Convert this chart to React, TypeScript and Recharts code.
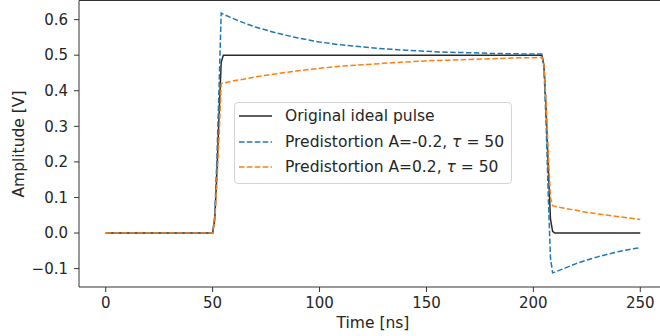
import React from 'react';
import { LineChart, Line, XAxis, YAxis, Legend, ReferenceLine } from 'recharts';

// sample times (ns)
const times = [0, 50, 51, 52, 53, 54, 55, 60, 65, 70, 80, 90, 100, 110, 120, 130, 140, 150, 160, 170, 180, 190, 200, 204, 205, 206, 207, 208, 209, 210, 215, 220, 225, 230, 235, 240, 245, 250];

// amplitudes (V)
const idealPulse = [0, 0, 0.04, 0.17, 0.33, 0.48, 0.5, 0.5, 0.5, 0.5, 0.5, 0.5, 0.5, 0.5, 0.5, 0.5, 0.5, 0.5, 0.5, 0.5, 0.5, 0.5, 0.5, 0.5, 0.47, 0.34, 0.18, 0.04, 0.005, 0, 0, 0, 0, 0, 0, 0, 0, 0];
const predistNeg = [0, 0, 0.05, 0.21, 0.41, 0.618, 0.615, 0.602, 0.59, 0.579, 0.562, 0.548, 0.537, 0.529, 0.523, 0.518, 0.514, 0.511, 0.508, 0.507, 0.505, 0.504, 0.503, 0.503, 0.46, 0.3, 0.1, -0.07, -0.112, -0.11, -0.098, -0.086, -0.076, -0.067, -0.059, -0.052, -0.046, -0.041];
const predistPos = [0, 0, 0.035, 0.14, 0.27, 0.42, 0.421, 0.428, 0.433, 0.439, 0.448, 0.456, 0.463, 0.469, 0.473, 0.477, 0.481, 0.484, 0.486, 0.488, 0.49, 0.492, 0.493, 0.494, 0.47, 0.36, 0.22, 0.1, 0.077, 0.075, 0.069, 0.064, 0.058, 0.054, 0.05, 0.046, 0.042, 0.038];

const xTicks = [0, 50, 100, 150, 200, 250];
const yTicks = [-0.1, 0, 0.1, 0.2, 0.3, 0.4, 0.5, 0.6];
const yDomain = [-0.1517, 0.6537];

const data = times.map((t, i) => ({
  t,
  ideal: idealPulse[i],
  neg: predistNeg[i],
  pos: predistPos[i],
}));

const FONT = '"DejaVu Sans", sans-serif';
const TEXT = '#262626';
const SPINE = '#333';
const DASH = '5.5 2.4';

const legendItems = [
  { key: 'ideal', color: '#2a2a2a', dash: undefined as string | undefined, label: <>Original ideal pulse</> },
  { key: 'neg', color: '#1f77b4', dash: DASH, label: <>Predistortion A=-0.2, <i>τ</i> = 50</> },
  { key: 'pos', color: '#ff7f0e', dash: DASH, label: <>Predistortion A=0.2, <i>τ</i> = 50</> },
];

function renderLegend() {
  return (
    <div
      style={{
        display: 'inline-block',
        border: '1px solid #d4d4d4',
        borderRadius: 4,
        background: 'rgba(255,255,255,0.85)',
        padding: '0 7px 3px 4px',
        fontFamily: FONT,
        fontSize: 15.5,
        color: TEXT,
      }}
    >
      {legendItems.map((item) => (
        <div key={item.key} style={{ display: 'flex', alignItems: 'center', height: 25.8, whiteSpace: 'nowrap' }}>
          <svg width={33} height={4} style={{ display: 'block', flexShrink: 0 }}>
            <line x1={0} y1={2} x2={33} y2={2} stroke={item.color} strokeWidth={1.5} strokeDasharray={item.dash} />
          </svg>
          <span style={{ marginLeft: 13, whiteSpace: 'nowrap' }}>{item.label}</span>
        </div>
      ))}
    </div>
  );
}

const fmtY = (v: number) => v.toFixed(1).replace('-', '\u2212');

export default function App() {
  return (
    <div style={{ position: 'absolute', left: 0, top: 0, width: 660, height: 336, overflow: 'hidden', background: '#fff' }}>
      <LineChart width={680} height={336} data={data} margin={{ top: 0.5, right: 13, bottom: 0, left: 0 }}>
        <XAxis
          dataKey="t"
          type="number"
          domain={[-12.5, 262.5]}
          ticks={xTicks}
          allowDataOverflow
          height={49}
          tickSize={5}
          tickMargin={5}
          stroke={SPINE}
          tick={{ fill: TEXT, fontSize: 15, fontFamily: FONT }}
          label={{
            content: () => (
              <text x={373} y={328} textAnchor="middle" fill={TEXT} fontSize={15.5} fontFamily={FONT}>
                Time [ns]
              </text>
            ),
          }}
        />
        <YAxis
          type="number"
          domain={yDomain}
          ticks={yTicks}
          allowDataOverflow
          width={79}
          tickSize={5}
          tickMargin={6}
          tickFormatter={fmtY}
          stroke={SPINE}
          tick={{ fill: TEXT, fontSize: 15, fontFamily: FONT }}
          label={{
            content: () => (
              <text
                x={0}
                y={0}
                transform="translate(24 144) rotate(-90)"
                textAnchor="middle"
                fill={TEXT}
                fontSize={15.5}
                fontFamily={FONT}
              >
                Amplitude [V]
              </text>
            ),
          }}
        />
        {/* top spine */}
        <ReferenceLine y={yDomain[1]} stroke={SPINE} strokeWidth={1} ifOverflow="visible" />
        <Line type="linear" dataKey="ideal" stroke="#2a2a2a" strokeWidth={1.5} dot={false} isAnimationActive={false} />
        <Line type="linear" dataKey="neg" stroke="#1f77b4" strokeWidth={1.5} strokeDasharray={DASH} dot={false} isAnimationActive={false} />
        <Line type="linear" dataKey="pos" stroke="#ff7f0e" strokeWidth={1.5} strokeDasharray={DASH} dot={false} isAnimationActive={false} />
        <Legend
          layout="vertical"
          align="center"
          verticalAlign="middle"
          content={renderLegend}
          wrapperStyle={{ left: 234, top: 102, width: 'auto' }}
        />
      </LineChart>
    </div>
  );
}
